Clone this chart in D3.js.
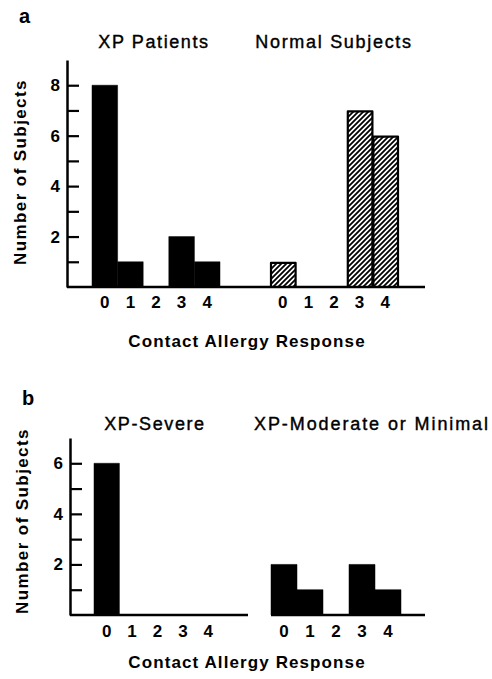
<!DOCTYPE html>
<html>
<head>
<meta charset="utf-8">
<script src="https://cdn.jsdelivr.net/npm/d3@7"></script>
<style>
  html, body { margin: 0; padding: 0; background: #fff; }
  svg { display: block; font-family: "Liberation Sans", Arial, Helvetica, sans-serif; }
</style>
</head>
<body>
<svg id="chart" width="492" height="679"></svg>
<script>
// ---- data ----
const responses = [0, 1, 2, 3, 4];
const xpPatients = [8, 1, 0, 2, 1];
const normalSubjects = [1, 0, 0, 7, 6];
const xpSevere = [6, 0, 0, 0, 0];
const xpModerate = [2, 1, 0, 2, 1];
const panelAYTicks = [1, 2, 3, 4, 5, 6, 7, 8];
const panelBYTicks = [1, 2, 3, 4, 5, 6];
const panelATitles = ["XP Patients", "Normal Subjects"];
const panelBTitles = ["XP-Severe", "XP-Moderate or Minimal"];
const yAxisLabel = "Number of Subjects";
const xAxisLabel = "Contact Allergy Response";

const svg = d3.select("#chart");

// hatch pattern
const P = 5;
const defs = svg.append("defs");
defs.append("pattern")
  .attr("id", "hatch")
  .attr("patternUnits", "userSpaceOnUse")
  .attr("width", P).attr("height", P)
  .append("path")
  .attr("d", `M-1,1 l2,-2 M0,${P} l${P},-${P} M${P - 1},${P + 1} l2,-2`)
  .attr("stroke", "#000").attr("stroke-width", 1.8);

function panel(cfg) {
  const g = svg.append("g");
  const y = d3.scaleLinear().domain([0, cfg.yMax]).range([cfg.base, cfg.top]);

  // panel letter
  g.append("text").attr("x", cfg.letterX).attr("y", cfg.letterY)
    .attr("font-size", 20).attr("font-weight", "bold").text(cfg.letter);

  // y axis
  const yAxis = d3.axisLeft(y).tickValues(cfg.yTicks)
    .tickSize(-12).tickSizeOuter(0).tickPadding(7)
    .tickFormat(d => d % 2 === 0 ? d : "");
  const ya = g.append("g").attr("transform", `translate(${cfg.axisX},0)`).call(yAxis);
  ya.select(".domain").attr("stroke-width", 2.5);
  ya.selectAll(".tick line").attr("stroke-width", 2.2);
  ya.selectAll(".tick text").attr("font-size", 17).attr("font-weight", "bold")
    .attr("font-family", "Liberation Sans, Arial, sans-serif");

  // y label
  g.append("text")
    .attr("transform", `translate(${cfg.yLabelX},${cfg.yLabelY}) rotate(-90)`)
    .attr("text-anchor", "middle").attr("font-size", 17).attr("font-weight", "bold")
    .attr("letter-spacing", 1.4).text(yAxisLabel);

  // baselines
  cfg.baselines.forEach(([x0, x1]) => {
    g.append("line").attr("x1", x0).attr("x2", x1)
      .attr("y1", cfg.base).attr("y2", cfg.base)
      .attr("stroke", "#000").attr("stroke-width", 2.5);
  });

  cfg.groups.forEach(grp => {
    const x = d3.scaleBand().domain(responses).range(grp.range).padding(0);
    const data = responses.map((r, i) => ({ r, v: grp.values[i] })).filter(d => d.v > 0);
    g.selectAll(null).data(data).enter().append("rect")
      .attr("x", d => x(d.r) + (grp.hatch ? 1 : 0))
      .attr("width", x.bandwidth() - (grp.hatch ? 1 : 0))
      .attr("y", d => y(d.v) + (grp.hatch ? 1 : 0))
      .attr("height", d => cfg.base - y(d.v) - (grp.hatch ? 1 : 0))
      .attr("fill", grp.hatch ? "url(#hatch)" : "#000")
      .attr("stroke", "#000")
      .attr("stroke-width", grp.hatch ? 2.2 : 0.5)
      .attr("stroke-linejoin", "round");

    // x tick labels
    const xAxis = d3.axisBottom(x).tickSize(0).tickPadding(0);
    const xa = g.append("g").attr("transform", `translate(0,${cfg.tickLabelY})`).call(xAxis);
    xa.select(".domain").remove();
    xa.selectAll(".tick text").attr("font-size", 17).attr("font-weight", "bold")
      .attr("dy", 0).attr("font-family", "Liberation Sans, Arial, sans-serif");

    // title
    g.append("text").attr("x", grp.titleX).attr("y", cfg.titleY)
      .attr("text-anchor", "middle").attr("font-size", 18)
      .attr("stroke", "#000").attr("stroke-width", 0.4)
      .attr("letter-spacing", grp.ls).text(grp.title);
  });

  g.append("text").attr("x", 247).attr("y", cfg.xLabelY)
    .attr("text-anchor", "middle").attr("font-size", 17).attr("font-weight", "bold")
    .attr("letter-spacing", 1.1).text(xAxisLabel);
}

panel({
  letter: "a", letterX: 19, letterY: 23,
  yMax: 9, top: 60, base: 287, axisX: 67,
  yTicks: panelAYTicks, yLabelX: 26, yLabelY: 172,
  baselines: [[67, 425]],
  tickLabelY: 308, titleY: 48, xLabelY: 347,
  groups: [
    { values: xpPatients, range: [92, 220], hatch: false, title: panelATitles[0], titleX: 154, ls: 1.6 },
    { values: normalSubjects, range: [270, 398], hatch: true, title: panelATitles[1], titleX: 334, ls: 1.7 }
  ]
});

panel({
  letter: "b", letterX: 22, letterY: 405,
  yMax: 7, top: 438, base: 615, axisX: 70,
  yTicks: panelBYTicks, yLabelX: 28, yLabelY: 521,
  baselines: [[70, 248], [271, 425]],
  tickLabelY: 637, titleY: 430, xLabelY: 668,
  groups: [
    { values: xpSevere, range: [94, 221], hatch: false, title: panelBTitles[0], titleX: 155, ls: 1.6 },
    { values: xpModerate, range: [271, 401], hatch: false, title: panelBTitles[1], titleX: 372, ls: 1.9 }
  ]
});
</script>
</body>
</html>
